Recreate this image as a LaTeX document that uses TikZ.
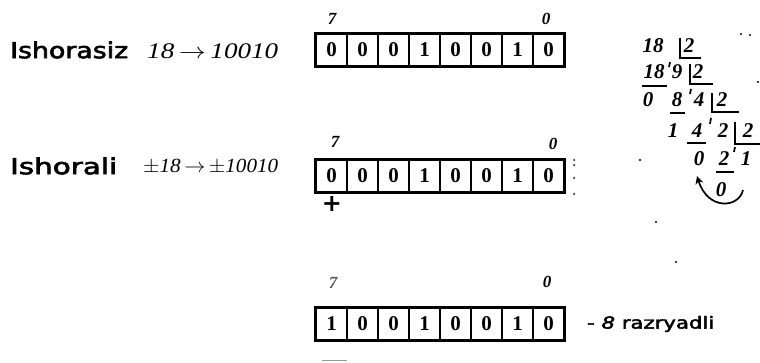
\documentclass[tikz,border=0pt]{standalone}
\usepackage{fontspec}
\setmainfont{Liberation Serif}
\setsansfont{DejaVu Sans}
\newfontfamily\semisans[FakeBold=2.5]{DejaVu Sans}
\usetikzlibrary{arrows.meta}
\begin{document}
\begin{tikzpicture}[x=1pt,y=-1pt,
  cell/.style={draw, line width=1.8pt, minimum width=31pt, minimum height=32pt, inner sep=0pt, font=\bfseries\fontsize{21}{21}\selectfont},
  frame/.style={line width=2.8pt},
  idx/.style={font=\bfseries\itshape\fontsize{17}{17}\selectfont, inner sep=0pt},
  lbl/.style={inner sep=0pt, anchor=west},
  dv/.style={font=\bfseries\itshape\fontsize{21}{21}\selectfont, inner sep=0pt},
  dl/.style={line width=1.7pt},
  noise/.style={fill=black, circle, inner sep=0pt, minimum size=2.4pt}]
\useasboundingbox (0,0) rectangle (760,362);
% row 1
\node[lbl] (t1) at (10,50) {\resizebox*{118pt}{17pt}{\semisans Ishorasiz}};
\node[lbl] (e1) at (147,51) {\resizebox*{131pt}{15pt}{\itshape 18\,$\rightarrow$\,10010}};
\foreach \b [count=\i from 0] in {0,0,0,1,0,0,1,0}
  \node[cell] (a\i) at ({331.5+31*\i},50) {\b};
\draw[frame] (a0.north west) rectangle (a7.south east);
\node[idx] (a7l) at (332,19) {7};
\node[idx] (a0l) at (546,19) {0};
% row 2
\node[lbl] (t2) at (10,166) {\resizebox*{107pt}{17pt}{\semisans Ishorali}};
\node[lbl] (e2) at (143,167) {\resizebox*{135pt}{15pt}{\itshape $\pm$18\,$\rightarrow$\,$\pm$10010}};
\foreach \b [count=\i from 0] in {0,0,0,1,0,0,1,0}
  \node[cell] (b\i) at ({331.5+31*\i},176) {\b};
\draw[frame] (b0.north west) rectangle (b7.south east);
\node[idx] (b7l) at (335,142) {7};
\node[idx] (b0l) at (553,144) {0};
\node[inner sep=0pt, font=\sffamily\bfseries\fontsize{24}{24}\selectfont] (plus) at (332,204) {+};
\node[noise, minimum size=2pt] (n1) at (574,160) {};
\node[noise, minimum size=2pt] (n2) at (574,165) {};
\node[noise, minimum size=2pt] (n3) at (574,178) {};
\node[noise, minimum size=2pt] (n4) at (574,194) {};
% row 3
\foreach \b [count=\i from 0] in {1,0,0,1,0,0,1,0}
  \node[cell] (c\i) at ({331.5+31*\i},324) {\b};
\draw[frame] (c0.north west) rectangle (c7.south east);
\node[idx, text=black!65] (c7l) at (333,283) {7};
\node[idx] (c0l) at (547,282) {0};
\node[lbl] (t3) at (587,324) {\resizebox*{127pt}{16pt}{\semisans - \textit{8} razryadli}};
\draw[line width=1.2pt, black!40] (322,360.5) -- (347,360.5);
% division
\begin{scope}[yshift=6pt]
\node[dv] (d18) at (653,52) {18};
\node[dv] (d2a) at (689,52) {2};
\draw[dl] (680,44) -- (680,64) -- (701,64);
\node[dv] (d18b) at (654,78) {18};
\draw[dl] (642,92) -- (667,92);
\node[dv] (d9) at (677,78) {9};
\draw[dl] (670,68) -- (669,73);
\node[dv] (d2b) at (698,78) {2};
\draw[dl] (690,70) -- (690,90) -- (713,90);
\node[dv] (d0a) at (648,106) {0};
\node[dv] (d8) at (677,106) {8};
\draw[dl] (670,119) -- (685,119);
\draw[dl] (691,95) -- (690,100);
\node[dv] (d4) at (699,106) {4};
\node[dv] (d2c) at (722,106) {2};
\draw[dl] (712,99) -- (712,118) -- (739,118);
\node[dv] (d1a) at (673,137) {1};
\node[dv] (d4b) at (697,137) {4};
\draw[dl] (687,149) -- (706,149);
\draw[dl] (711,124) -- (710,130);
\node[dv] (d2d) at (723,137) {2};
\node[dv] (d2e) at (748,137) {2};
\draw[dl] (735,128) -- (735,150) -- (760,150);
\node[dv] (d0b) at (699,165) {0};
\node[dv] (d2f) at (724,165) {2};
\draw[dl] (716,178) -- (734,178);
\draw[dl] (735,153) -- (734,158);
\node[dv] (d1b) at (746,165) {1};
\node[dv] (d0c) at (721,196) {0};
\coordinate (as) at (743,196);
\coordinate (ae) at (697,182);
\draw[line width=1.7pt, -{Stealth[length=8pt,width=8pt]}] (as) .. controls (739,214) and (708,217) .. (ae);
\end{scope}
% scan specks
\node[noise] (s1) at (741,34) {};
\node[noise] (s2) at (750,35) {};
\node[noise] (s3) at (758,82) {};
\node[noise] (s4) at (640,160) {};
\node[noise] (s5) at (656,222) {};
\node[noise] (s6) at (676,262) {};
\end{tikzpicture}
\end{document}
